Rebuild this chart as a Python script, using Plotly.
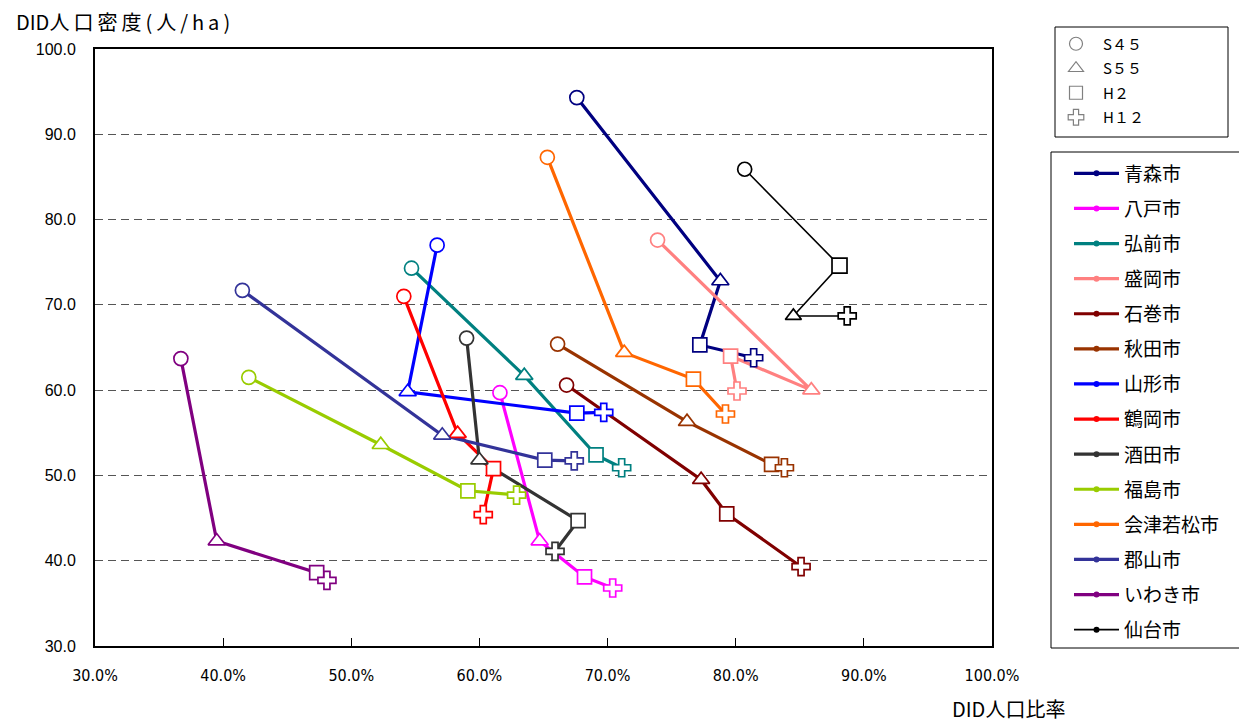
import plotly.graph_objects as go

# DID population ratio (%) and DID population density (persons/ha), per city, in path order
cities = ["青森市", "八戸市", "弘前市", "盛岡市", "石巻市", "秋田市", "山形市",
          "鶴岡市", "酒田市", "福島市", "会津若松市", "郡山市", "いわき市", "仙台市"]

ratio_aomori = [67.6, 78.8, 77.2, 81.4]
dens_aomori = [94.3, 72.8, 65.3, 63.8]
ratio_hachinohe = [61.6, 64.7, 68.2, 70.4]
dens_hachinohe = [59.7, 42.3, 38.1, 36.8]
ratio_hirosaki = [54.7, 63.5, 69.1, 71.1]
dens_hirosaki = [74.3, 61.7, 52.4, 50.9]
ratio_morioka = [73.9, 85.9, 79.6, 80.1]
dens_morioka = [77.6, 60.0, 64.0, 59.9]
ratio_ishinomaki = [66.8, 77.3, 79.3, 85.1]
dens_ishinomaki = [60.6, 49.5, 45.5, 39.3]
ratio_akita = [66.1, 76.2, 82.8, 83.8]
dens_akita = [65.4, 56.3, 51.3, 50.9]
ratio_yamagata = [56.7, 54.4, 67.6, 69.7]
dens_yamagata = [77.0, 59.8, 57.3, 57.4]
ratio_tsuruoka = [54.1, 58.3, 61.1, 60.3]
dens_tsuruoka = [71.0, 54.9, 50.8, 45.4]
ratio_sakata = [59.0, 60.0, 67.7, 65.9]
dens_sakata = [66.1, 51.8, 44.7, 41.1]
ratio_fukushima = [42.0, 52.3, 59.1, 62.9]
dens_fukushima = [61.5, 53.6, 48.2, 47.7]
ratio_aizu = [65.3, 71.3, 76.7, 79.2]
dens_aizu = [87.3, 64.4, 61.3, 57.2]
ratio_koriyama = [41.5, 57.1, 65.1, 67.4]
dens_koriyama = [71.7, 54.7, 51.8, 51.7]
ratio_iwaki = [36.7, 39.5, 47.3, 48.1]
dens_iwaki = [63.7, 42.3, 38.6, 37.7]
ratio_sendai = [80.7, 88.1, 84.5, 88.7]
dens_sendai = [85.9, 74.6, 68.7, 68.7]

periods = ["S４５", "S５５", "H２", "H１２"]
period_symbols = ["circle-open", "triangle-up-open", "square-open", "cross-open"]
# marker per vertex (the Sendai path visits H2 before S55)
path_symbols = ["circle", "triangle-up", "square", "cross"]
path_symbols_sendai = ["circle", "square", "triangle-up", "cross"]

ratios = [ratio_aomori, ratio_hachinohe, ratio_hirosaki, ratio_morioka, ratio_ishinomaki,
          ratio_akita, ratio_yamagata, ratio_tsuruoka, ratio_sakata, ratio_fukushima,
          ratio_aizu, ratio_koriyama, ratio_iwaki, ratio_sendai]
densities = [dens_aomori, dens_hachinohe, dens_hirosaki, dens_morioka, dens_ishinomaki,
             dens_akita, dens_yamagata, dens_tsuruoka, dens_sakata, dens_fukushima,
             dens_aizu, dens_koriyama, dens_iwaki, dens_sendai]

colors = ["#000080", "#FF00FF", "#008080", "#FF8080", "#800000", "#993300", "#0000FF",
          "#FF0000", "#333333", "#99CC00", "#FF6600", "#333399", "#800080", "#000000"]

xticks = [0.3, 0.4, 0.5, 0.6, 0.7, 0.8, 0.9, 1.0]
yticks = [30, 40, 50, 60, 70, 80, 90, 100]

W, H = 1239, 722
L, R, T, B = 95, 992, 49, 646

def px(xp):
    return (xp - L) / (R - L)

def py(yp):
    return (B - yp) / (B - T)

CJK = "Noto Sans CJK JP"
LATIN = "Liberation Sans, Arial, " + CJK
NARROW = "Liberation Sans Narrow, Arial Narrow, DejaVu Sans Condensed, " + LATIN
TS = "\u2009"  # thin space used to loosen the axis-title lettering

fig = go.Figure()

# city paths (lines first)
for name, xs, ys, col in zip(cities, ratios, densities, colors):
    sendai = name == "仙台市"
    fig.add_trace(go.Scatter(
        x=[v / 100 for v in xs], y=ys, mode="lines",
        line=dict(color=col, width=1.6 if sendai else 3.2),
        showlegend=False, hoverinfo="skip"))

# open markers at each period, white-filled, on top of the paths
for name, xs, ys, col in zip(cities, ratios, densities, colors):
    sendai = name == "仙台市"
    fig.add_trace(go.Scatter(
        x=[v / 100 for v in xs], y=ys, mode="markers",
        marker=dict(symbol=path_symbols_sendai if sendai else path_symbols,
                    size=[14, 15, 14, 15], color="#FFFFFF", opacity=1,
                    line=dict(color=col, width=1.7)),
        showlegend=False, hoverinfo="skip", cliponaxis=False))

# city legend entries
for name, col in zip(cities, colors):
    sendai = name == "仙台市"
    fig.add_trace(go.Scatter(
        x=[None], y=[None], mode="lines+markers", name=name,
        legend="legend", legendgroup=name,
        line=dict(color=col, width=1.6 if sendai else 3.2),
        marker=dict(symbol="circle", size=6, color=col)))

# period (marker) legend entries
for per, sym in zip(periods, period_symbols):
    fig.add_trace(go.Scatter(
        x=[None], y=[None], mode="markers", name=per,
        legend="legend2", legendgroup=per,
        marker=dict(symbol=sym, size=13, color="#808080", line=dict(width=1.2))))

fig.update_layout(
    width=W, height=H,
    margin=dict(l=L, r=W - R, t=T, b=H - B),
    paper_bgcolor="white", plot_bgcolor="white",
    font=dict(family=LATIN, color="black"),
    xaxis=dict(range=[0.3, 1.0], tickvals=xticks, tickformat=".1%",
               showgrid=False, zeroline=False, showline=True, mirror=True,
               linecolor="black", linewidth=2, ticks="inside", ticklen=8,
               tickcolor="black", tickwidth=1, ticklabelstandoff=14,
               tickfont=dict(family=NARROW, size=16)),
    yaxis=dict(range=[30, 100], tickvals=yticks, tickformat=".1f",
               showgrid=True, gridcolor="#555555", gridwidth=1, griddash="8px,5px",
               zeroline=False, showline=True, mirror=True,
               linecolor="black", linewidth=2, ticks="", ticklabelstandoff=14,
               tickfont=dict(family=LATIN, size=16)),
    legend=dict(x=px(1069), y=py(154.5), xanchor="left", yanchor="top",
                bgcolor="rgba(0,0,0,0)", borderwidth=0,
                font=dict(family=CJK, size=19), tracegroupgap=7.4,
                itemwidth=45),
    legend2=dict(x=px(1049), y=py(27.5), xanchor="left", yanchor="top",
                 bgcolor="rgba(0,0,0,0)", borderwidth=0,
                 font=dict(family=CJK, size=15), tracegroupgap=2.0,
                 itemwidth=44),
    shapes=[
        dict(type="rect", xref="paper", yref="paper",
             x0=px(1051), x1=px(1250), y0=py(648), y1=py(152),
             line=dict(color="black", width=1), fillcolor="rgba(0,0,0,0)"),
        dict(type="rect", xref="paper", yref="paper",
             x0=px(1055), x1=px(1228), y0=py(137), y1=py(27),
             line=dict(color="black", width=1), fillcolor="rgba(0,0,0,0)"),
    ],
    annotations=[
        dict(text="DID" + TS.join("人口密度") + TS + TS.join("(人/ha)"),
             xref="paper", yref="paper",
             x=px(14), y=py(22), xanchor="left", yanchor="middle",
             showarrow=False, font=dict(family=CJK, size=20)),
        dict(text="DID人口比率", xref="paper", yref="paper",
             x=px(1008), y=py(709), xanchor="center", yanchor="middle",
             showarrow=False, font=dict(family=CJK, size=20)),
    ],
)

fig.write_html("out.html")
